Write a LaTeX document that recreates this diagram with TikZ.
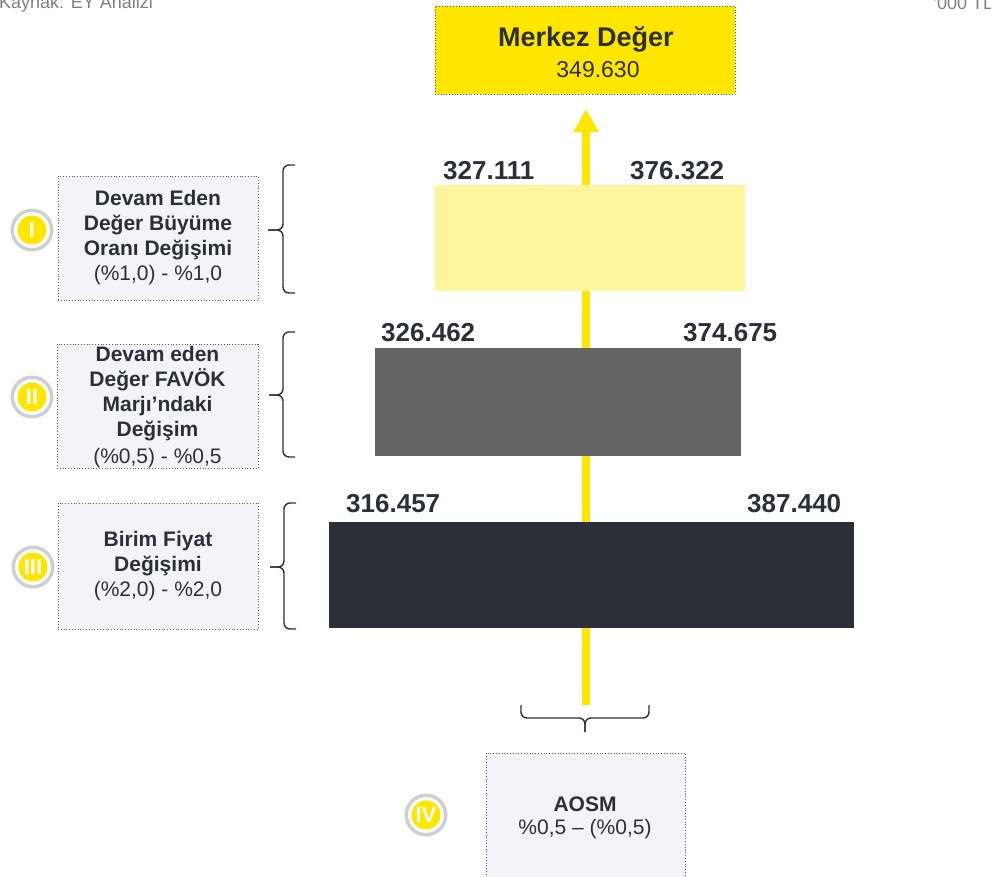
\documentclass[tikz,border=0pt]{standalone}
\usepackage{fontspec}
\setmainfont{Liberation Sans}
\usetikzlibrary{arrows.meta}
\definecolor{eydark}{HTML}{2E2E38}
\definecolor{eyyellow}{HTML}{FFE600}
\definecolor{lightyellow}{HTML}{FFF59D}
\definecolor{midgray}{HTML}{646464}
\definecolor{boxfill}{HTML}{F4F4F8}
\definecolor{ringgray}{HTML}{CFCFCF}
\definecolor{headgray}{HTML}{7F7F7F}
\newcommand{\fs}[2]{\fontsize{#1}{#2}\selectfont}
\begin{document}
\begin{tikzpicture}[x=1pt,y=-1pt,
  infobox/.style={draw=eydark!80, dotted, line width=0.8pt, fill=boxfill, inner sep=0pt, text=eydark, align=center},
  barbox/.style={inner sep=0pt, draw=none},
  numlbl/.style={anchor=base west, inner sep=0pt, text=eydark, font=\fs{26}{30}\bfseries},
  bracestyle/.style={draw=eydark, line width=1.4pt, rounded corners=6pt},
  ringdisc/.style={circle, draw=ringgray, line width=3.5pt, fill=white, minimum size=39.5pt, inner sep=0pt},
  yelldisc/.style={circle, fill=eyyellow, minimum size=29pt, inner sep=0pt, text=white, font=\fs{22}{26}\bfseries},
  headtxt/.style={anchor=base west, inner sep=0pt, text=headgray, font=\fs{18}{20}}
]
\useasboundingbox (0,0) rectangle (991,876);

% header
\node[headtxt] (src) at (-1,8) {Kaynak: EY Analizi};
\node[headtxt] (unit) at (933,9) {'000 TL};

% yellow arrow (behind bars)
\coordinate (arrbot) at (586,705);
\coordinate (arrtop) at (586,109);
\draw[eyyellow, line width=8pt, -{Triangle[width=24pt,length=23pt]}] (arrbot) -- (arrtop);

% Merkez Deger box
\node[infobox, fill=eyyellow, minimum width=300pt, minimum height=88pt] (center) at (585,50) {};
\node[anchor=base, inner sep=0pt, text=eydark, font=\fs{27}{30}\bfseries] (centertitle) at (586,46) {Merkez Değer};
\node[anchor=base, inner sep=0pt, text=eydark, font=\fs{23}{26}] (centerval) at (598,77) {349.630};

% bars
\node[barbox, fill=lightyellow, minimum width=310pt, minimum height=106pt] (bar1) at (590,238) {};
\node[barbox, fill=midgray, minimum width=366pt, minimum height=108pt] (bar2) at (558,402) {};
\node[barbox, fill=eydark, minimum width=525pt, minimum height=106pt] (bar3) at (591.5,575) {};

\node[numlbl] (b1l) at (443,179) {327.111};
\node[numlbl] (b1r) at (630,179) {376.322};
\node[numlbl] (b2l) at (381,341) {326.462};
\node[numlbl] (b2r) at (683,341) {374.675};
\node[numlbl] (b3l) at (346,512) {316.457};
\node[numlbl] (b3r) at (747,512) {387.440};

% left info boxes
\node[infobox, minimum width=200pt, minimum height=124pt, font=\fs{21}{25}] (box1) at (158,238)
  {\textbf{Devam Eden}\\\textbf{Değer Büyüme}\\\textbf{Oranı Değişimi}\\(\%1,0) - \%1,0};
\node[infobox, minimum width=201pt, minimum height=124pt] (box2) at (157.5,406) {};
\node[anchor=north, inner sep=0pt, text=eydark, align=center, font=\fs{21}{25}] (box2txt) at (157.5,346)
  {\textbf{Devam eden}\\\textbf{Değer FAVÖK}\\\textbf{Marjı’ndaki}\\\textbf{Değişim}\\[2pt](\%0,5) - \%0,5};
\node[infobox, minimum width=200pt, minimum height=126pt, font=\fs{21}{25}] (box3) at (158,566)
  {\textbf{Birim Fiyat}\\\textbf{Değişimi}\\(\%2,0) - \%2,0};

% AOSM box
\node[infobox, minimum width=199pt, minimum height=128pt] (box4) at (585.5,817) {};
\node[anchor=base, inner sep=0pt, text=eydark, font=\fs{21}{23}\bfseries] (aosm) at (585,811) {AOSM};
\node[anchor=base, inner sep=0pt, text=eydark, font=\fs{21}{23}] (aosmval) at (585,834) {\%0,5 – (\%0,5)};

% numbered circles
\node[ringdisc] (c1r) at (32,230) {};
\node[yelldisc] (c1) at (32,230) {I};
\node[ringdisc] (c2r) at (32,397) {};
\node[yelldisc] (c2) at (32,397) {II};
\node[ringdisc] (c3r) at (33,567) {};
\node[yelldisc] (c3) at (33,567) {III};
\node[ringdisc] (c4r) at (426,815) {};
\node[yelldisc] (c4) at (426,815) {IV};

% braces
\coordinate (t1) at (268,230);
\draw[bracestyle] (295,165) -- (283,165) -- (283,230) -- (t1);
\draw[bracestyle] (295,293) -- (283,293) -- (283,230) -- (t1);
\coordinate (t2) at (269,395);
\draw[bracestyle] (295,332) -- (283,332) -- (283,395) -- (t2);
\draw[bracestyle] (295,457) -- (283,457) -- (283,395) -- (t2);
\coordinate (t3) at (270,567);
\draw[bracestyle] (296,503) -- (284,503) -- (284,567) -- (t3);
\draw[bracestyle] (296,629) -- (284,629) -- (284,567) -- (t3);
\coordinate (t4) at (585,732);
\draw[bracestyle] (521,705) -- (521,718) -- (585,718) -- (t4);
\draw[bracestyle] (649,705) -- (649,718) -- (585,718) -- (t4);
\end{tikzpicture}
\end{document}
